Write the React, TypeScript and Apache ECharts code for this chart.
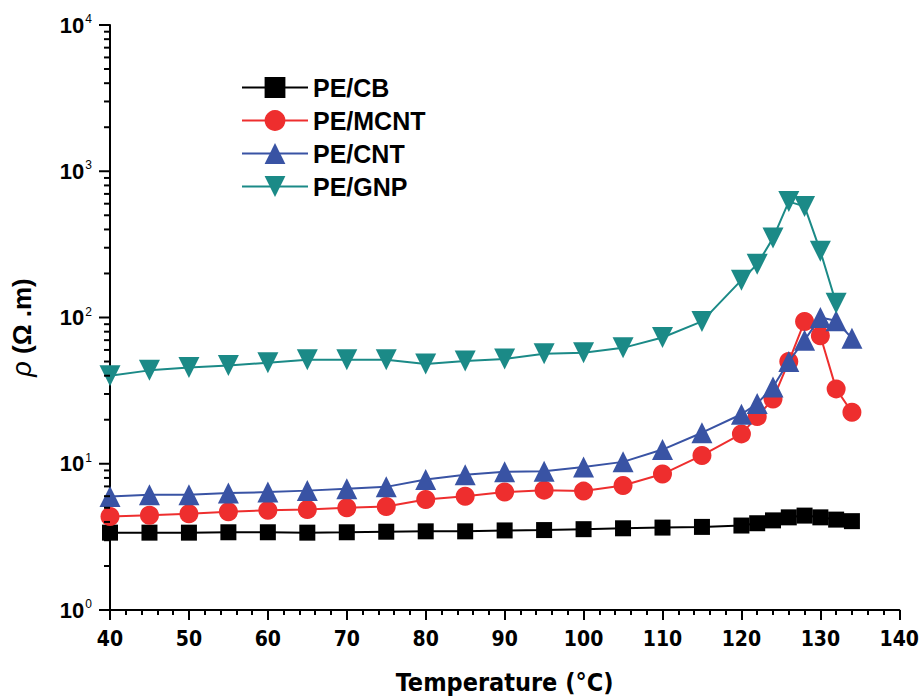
import React, { useEffect, useRef } from "react";
import * as echarts from "echarts";

const temps = [40, 45, 50, 55, 60, 65, 70, 75, 80, 85, 90, 95, 100, 105, 110, 115, 120, 122, 124, 126, 128, 130, 132, 134];
const peCB = [3.38, 3.38, 3.38, 3.4, 3.4, 3.38, 3.4, 3.43, 3.45, 3.45, 3.5, 3.52, 3.57, 3.62, 3.66, 3.7, 3.78, 3.92, 4.1, 4.3, 4.42, 4.3, 4.15, 4.05];
const peMCNT = [4.36, 4.45, 4.55, 4.7, 4.8, 4.87, 5.0, 5.1, 5.7, 6.0, 6.4, 6.6, 6.5, 7.1, 8.5, 11.4, 16, 21, 27.7, 50, 94, 75, 32.5, 22.5];
const peCNT = [5.98, 6.15, 6.15, 6.3, 6.4, 6.55, 6.75, 6.95, 7.8, 8.4, 8.8, 8.9, 9.5, 10.3, 12.5, 16.3, 21.8, 25.8, 33.5, 50, 70, 100, 95, 72];
const peGNP = [40, 43.5, 45.5, 47, 49, 51.5, 51.5, 51.5, 48, 50.5, 52, 56.5, 57.5, 62, 73, 94, 180, 231, 349, 620, 575, 284, 125];

const seriesNames = ["PE/CB", "PE/MCNT", "PE/CNT", "PE/GNP"];
const seriesColors = ["#000000", "#ee2e2e", "#3953a4", "#1b8a87"];

const xMin = 40;
const xMax = 140;
const yMin = 1;
const yMax = 10000;
// y-axis tick values: decades (major) and 2..9 × decade (minor)
const yTickValues: number[] = [];
for (let d = 0; d <= 4; d++) {
  for (let k = 1; k <= 9; k++) {
    const v = k * Math.pow(10, d);
    if (v <= yMax) yTickValues.push(v);
  }
}

const narrow = "'Liberation Sans Narrow', 'Arial Narrow', 'DejaVu Sans Condensed', sans-serif";
const sans = "'Liberation Sans', Arial, sans-serif";

export default function App() {
  const ref = useRef<HTMLDivElement>(null);
  useEffect(() => {
    if (!ref.current) return;
    const chart = echarts.init(ref.current, null, { renderer: "svg" });
    const pairs = (vals: number[]) => vals.map((v, i) => [temps[i], v]);
    const symbols = ["rect", "circle", "triangle", "triangle"];
    const sizes = [16, 19, 21, 21];
    const rots = [0, 0, 0, 180];
    const datas = [peCB, peMCNT, peCNT, peGNP];
    const lineSeries = seriesNames.map((name, i) => ({
      name,
      type: "line",
      data: pairs(datas[i]),
      symbol: symbols[i],
      symbolSize: sizes[i],
      symbolRotate: rots[i],
      showAllSymbol: true,
      color: seriesColors[i],
      itemStyle: { color: seriesColors[i] },
      lineStyle: { color: seriesColors[i], width: 2 },
      z: 2 + i,
    }));
    const tickSeries = {
      name: "yTicks",
      type: "custom",
      silent: true,
      clip: false,
      z: 10,
      encode: { x: 0, y: 1 },
      data: yTickValues.map((v) => [xMin, v, Number.isInteger(Math.log10(v)) ? 1 : 0]),
      renderItem: (params: any, api: any) => {
        const p = api.coord([api.value(0), api.value(1)]);
        const len = api.value(2) ? 11 : 6;
        return {
          type: "line",
          shape: { x1: p[0] - len, y1: p[1], x2: p[0], y2: p[1] },
          style: { stroke: "#000", lineWidth: 2 },
        };
      },
    };
    chart.setOption({
      animation: false,
      backgroundColor: "#ffffff",
      grid: { left: 108, right: 22, top: 25, bottom: 88 },
      legend: {
        orient: "vertical",
        left: 236,
        top: 70,
        itemWidth: 66,
        itemHeight: 26,
        itemGap: 8,
        data: seriesNames,
        textStyle: { fontFamily: sans, fontWeight: "bold", fontSize: 25, color: "#000" },
      },
      xAxis: {
        type: "value",
        min: xMin,
        max: xMax,
        interval: 10,
        name: "Temperature (°C)",
        nameLocation: "middle",
        nameGap: 60,
        nameTextStyle: { fontFamily: narrow, fontWeight: "bold", fontSize: 25, color: "#000" },
        axisLine: { lineStyle: { color: "#000", width: 2 } },
        axisTick: { inside: false, length: 10, lineStyle: { color: "#000", width: 2 } },
        minorTick: { show: true, splitNumber: 5, length: 5, lineStyle: { color: "#000", width: 2 } },
        axisLabel: { fontFamily: narrow, fontWeight: "bold", fontSize: 21, color: "#000", margin: 18 },
        splitLine: { show: false },
      },
      yAxis: {
        type: "log",
        logBase: 10,
        min: yMin,
        max: yMax,
        name: "{i|ρ}{n| (Ω .m)}",
        nameLocation: "middle",
        nameGap: 75,
        nameRotate: 90,
        nameTextStyle: {
          padding: [0, 20, 0, 0],
          rich: {
            i: { fontFamily: sans, fontStyle: "italic", fontSize: 27, color: "#000" },
            n: { fontFamily: sans, fontWeight: "bold", fontSize: 26, color: "#000" },
          },
        },
        axisLine: { show: true, lineStyle: { color: "#000", width: 2 } },
        axisTick: { show: false },
        axisLabel: {
          margin: 18,
          formatter: (v: number) => `{b|10}{s|${Math.round(Math.log10(v))}}`,
          rich: {
            b: { fontFamily: sans, fontWeight: "bold", fontSize: 22, color: "#000", lineHeight: 24 },
            s: { fontFamily: sans, fontSize: 12, color: "#000", verticalAlign: "top", lineHeight: 24, padding: [0, 0, 8, 1] },
          },
        },
        splitLine: { show: false },
      },
      series: [...lineSeries, tickSeries],
    });
    return () => chart.dispose();
  }, []);
  return <div ref={ref} style={{ width: 922, height: 700, position: "absolute", left: 0, top: 0 }} />;
}
